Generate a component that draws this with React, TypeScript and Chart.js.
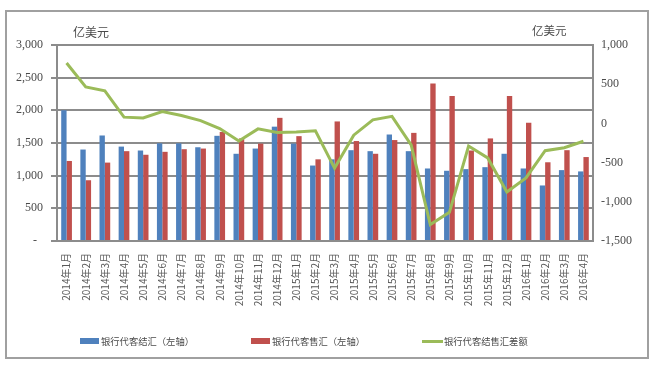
import React, { useEffect, useRef } from "react";
import { Chart, registerables } from "chart.js";

Chart.register(...registerables);

const months: string[] = [
  "2014年1月", "2014年2月", "2014年3月", "2014年4月", "2014年5月", "2014年6月",
  "2014年7月", "2014年8月", "2014年9月", "2014年10月", "2014年11月", "2014年12月",
  "2015年1月", "2015年2月", "2015年3月", "2015年4月", "2015年5月", "2015年6月",
  "2015年7月", "2015年8月", "2015年9月", "2015年10月", "2015年11月", "2015年12月",
  "2016年1月", "2016年2月", "2016年3月", "2016年4月",
];

const settlement: number[] = [
  2000, 1400, 1615, 1445, 1385, 1495, 1495, 1435, 1610, 1335, 1415, 1750,
  1490, 1155, 1250, 1390, 1375, 1630, 1375, 1110, 1075, 1100, 1130, 1335,
  1110, 850, 1085, 1065,
];

const sales: number[] = [
  1225, 930, 1200, 1375, 1320, 1365, 1405, 1415, 1670, 1570, 1490, 1885,
  1605, 1250, 1830, 1530, 1335, 1545, 1655, 2410, 2220, 1385, 1570, 2220,
  1810, 1205, 1390, 1285,
];

const balance: number[] = [
  770, 465, 415, 80, 70, 150, 100, 35, -65, -225, -70, -115,
  -110, -95, -570, -150, 45, 90, -275, -1290, -1135, -288, -440, -875,
  -695, -348, -310, -228,
];

const seriesNames: string[] = [
  "银行代客结汇（左轴）",
  "银行代客售汇（左轴）",
  "银行代客结售汇差额",
];

const unitLabel = "亿美元";

const BLUE = "#4f81bd";
const RED = "#c0504d";
const GREEN = "#9bbb59";
const GRID = "#8c8c8c";
const TEXT = "#4a4a4a";

function fmt(v: number): string {
  if (v === 0) return "0";
  const s = Math.abs(v).toLocaleString("en-US");
  return v < 0 ? "-" + s : s;
}

export default function App() {
  const ref = useRef<HTMLCanvasElement | null>(null);

  useEffect(() => {
    if (!ref.current) return;
    const chart = new Chart(ref.current, {
      type: "bar",
      data: {
        labels: months,
        datasets: [
          {
            type: "line",
            label: seriesNames[2],
            data: balance,
            yAxisID: "y1",
            borderColor: GREEN,
            backgroundColor: GREEN,
            borderWidth: 3,
            pointRadius: 0,
            tension: 0,
            order: 0,
          },
          {
            type: "bar",
            label: seriesNames[0],
            data: settlement,
            yAxisID: "y",
            backgroundColor: BLUE,
            categoryPercentage: 0.56,
            barPercentage: 1.0,
            order: 1,
          },
          {
            type: "bar",
            label: seriesNames[1],
            data: sales,
            yAxisID: "y",
            backgroundColor: RED,
            categoryPercentage: 0.56,
            barPercentage: 1.0,
            order: 1,
          },
        ],
      },
      options: {
        animation: false,
        responsive: false,
        maintainAspectRatio: false,
        layout: { padding: { top: 45, left: 0, right: 0, bottom: 0 } },
        plugins: {
          legend: { display: false },
          tooltip: { enabled: false },
        },
        scales: {
          x: {
            grid: { display: false, drawTicks: false },
            border: { display: true, color: GRID, width: 2 },
            ticks: {
              autoSkip: false,
              maxRotation: 90,
              minRotation: 90,
              padding: 12,
              color: "#595959",
              font: { family: "'Noto Sans CJK SC'", size: 10 },
            },
            afterFit: (s: any) => {
              s.height = 125;
            },
          },
          y: {
            position: "left",
            min: 0,
            max: 3000,
            grid: { color: GRID, lineWidth: 2, tickLength: 6, drawTicks: true },
            border: { display: true, color: GRID, width: 2 },
            ticks: {
              stepSize: 500,
              padding: 8,
              color: TEXT,
              font: { family: "'Liberation Serif'", size: 12 },
              callback: (v: any) => (Number(v) === 0 ? "-  " : fmt(Number(v))),
            },
            afterFit: (s: any) => {
              s.width = 57;
            },
          },
          y1: {
            position: "right",
            min: -1500,
            max: 1000,
            grid: { display: false, drawTicks: false },
            border: { display: true, color: GRID, width: 2 },
            ticks: {
              stepSize: 500,
              padding: 8,
              color: TEXT,
              font: { family: "'Liberation Serif'", size: 12 },
              callback: (v: any) => fmt(Number(v)),
            },
            afterFit: (s: any) => {
              s.width = 59;
            },
          },
        },
      },
    });
    return () => chart.destroy();
  }, []);

  const legendText: React.CSSProperties = {
    position: "absolute",
    top: 333,
    fontFamily: "'Noto Sans CJK SC'",
    fontSize: 9.3,
    lineHeight: "16px",
    color: TEXT,
    whiteSpace: "nowrap",
  };

  return (
    <div style={{ position: "absolute", left: 0, top: 0, width: 652, height: 366, background: "#fff" }}>
      <div
        style={{
          position: "absolute",
          left: 5,
          top: 10,
          width: 640,
          height: 345,
          border: "2px solid #a0a0a0",
        }}
      />
      <canvas ref={ref} width={652} height={366} style={{ position: "absolute", left: 0, top: 0 }} />
      <span style={{ position: "absolute", left: 73, top: 23, fontFamily: "'Noto Sans CJK SC'", fontSize: 12, lineHeight: "18px", color: TEXT }}>
        {unitLabel}
      </span>
      <span style={{ position: "absolute", left: 532, top: 21, fontFamily: "'Noto Sans CJK SC'", fontSize: 11.5, lineHeight: "18px", color: TEXT }}>
        {unitLabel}
      </span>
      <div style={{ position: "absolute", left: 80, top: 338, width: 19, height: 6, background: BLUE }} />
      <span style={{ ...legendText, left: 101 }}>{seriesNames[0]}</span>
      <div style={{ position: "absolute", left: 251, top: 338, width: 19, height: 6, background: RED }} />
      <span style={{ ...legendText, left: 272 }}>{seriesNames[1]}</span>
      <div style={{ position: "absolute", left: 422, top: 340, width: 21, height: 3, background: GREEN }} />
      <span style={{ ...legendText, left: 444 }}>{seriesNames[2]}</span>
    </div>
  );
}
